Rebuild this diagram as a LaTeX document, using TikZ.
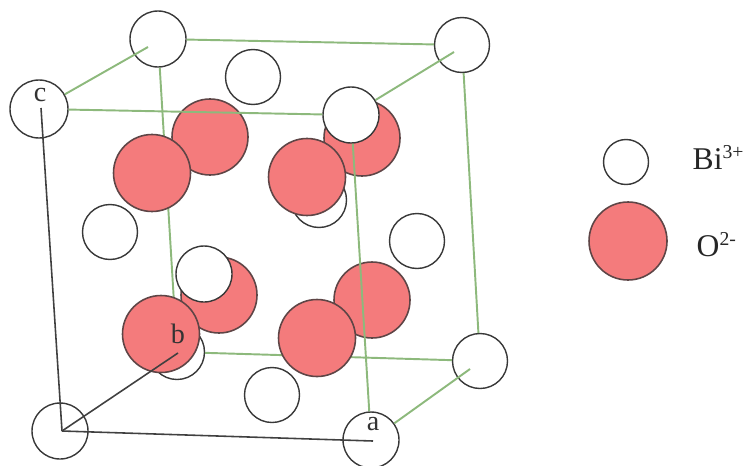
\documentclass[tikz,border=0pt]{standalone}
\usepackage{fontspec}
\setmainfont{Liberation Serif}
\definecolor{oxred}{HTML}{F47B7C}
\definecolor{bondgreen}{HTML}{8DB97C}
\definecolor{ringgray}{HTML}{383838}
\newcommand{\keysup}[1]{\raisebox{2.9pt}{\fontsize{5.6}{6}\selectfont #1}}
\tikzset{
	bi/.style={circle,draw=ringgray,fill=white,line width=0.4pt,inner sep=0pt,minimum size=#1},
	bi/.default=0.55cm,
	ox/.style={circle,draw=ringgray!80!oxred,fill=oxred,line width=0.45pt,inner sep=0pt,minimum size=#1},
	ox/.default=0.77cm,
	bond/.style={bondgreen,line width=0.55pt},
	axis/.style={black!75,line width=0.45pt},
	axlabel/.style={inner sep=0pt,font=\fontsize{8}{8}\selectfont,text=black!80},
	keylabel/.style={inner sep=0pt,anchor=base west,font=\fontsize{9}{10}\selectfont,text=black!85}
}
\begin{document}
\begin{tikzpicture}
		\useasboundingbox (0,0) rectangle (7.46,-4.65);
		% rear atoms
		\node[bi=0.56cm] (topback) at (1.58,-0.39) {};
		\node[bi=0.58cm] (topleft) at (0.39,-1.09) {};
		\node[bi] (topface) at (2.53,-0.77) {};
		\node[bi] (topright) at (4.62,-0.45) {};
		\node[bi] (midhid) at (3.19,-2.00) {};
		\node[bi] (midleft) at (1.10,-2.32) {};
		\node[bi] (midright) at (4.17,-2.41) {};
		\node[bi] (lowhid) at (1.77,-3.52) {};
		\node[bi] (lowface) at (2.72,-3.95) {};
		\node[bi=0.56cm] (origin) at (0.60,-4.31) {};
		\node[bi=0.56cm] (lowfront) at (3.71,-4.40) {};
		\node[bi] (lowright) at (4.80,-3.61) {};
		% free ends of the bonds inside the rings
		\coordinate (backend) at (1.48,-0.47);
		\coordinate (rightend) at (4.54,-0.52);
		\coordinate (lowend) at (4.70,-3.69);
		% bonds behind the oxygens
		\draw[bond] (topback) -- (topright);
		\draw[bond] (topback) -- (lowhid);
		\draw[bond] (lowhid) -- (lowright);
		\draw[bond] (topright) -- (lowright);
		\draw[bond] (topleft) -- (backend);
		\draw[bond] (lowfront) -- (lowend);
		% oxygens
		\node[ox=0.76cm] (oxa) at (2.10,-1.37) {};
		\node[ox] (oxb) at (1.52,-1.73) {};
		\node[ox=0.76cm] (oxc) at (3.62,-1.38) {};
		\node[ox] (oxd) at (3.07,-1.77) {};
		\node[ox=0.76cm] (oxe) at (2.19,-2.95) {};
		\node[ox] (oxf) at (1.61,-3.34) {};
		\node[ox=0.76cm] (oxg) at (3.72,-3.00) {};
		\node[ox] (oxh) at (3.17,-3.38) {};
		% front atoms
		\node[bi=0.56cm] (topfront) at (3.51,-1.15) {};
		\node[bi=0.56cm] (midfront) at (2.04,-2.74) {};
		\draw[bond] (topleft) -- (topfront);
		\draw[bond] (topfront) -- (rightend);
		\draw[bond] (topfront) -- (lowfront);
		% axes
		\coordinate (orig) at (0.62,-4.31);
		\coordinate (cend) at (0.41,-1.08);
		\coordinate (bend) at (1.78,-3.53);
		\coordinate (aend) at (3.73,-4.41);
		\draw[axis] (orig) -- (cend);
		\draw[axis] (orig) -- (bend);
		\draw[axis] (orig) -- (aend);
		\node[axlabel] (clabel) at (0.40,-0.95) {c};
		\node[axlabel] (blabel) at (1.78,-3.34) {b};
		\node[axlabel] (alabel) at (3.73,-4.24) {a};
		% key
		\node[bi=0.45cm] (keybi) at (6.26,-1.62) {};
		\node[ox=0.78cm] (keyox) at (6.28,-2.41) {};
		\node[keylabel] (bitext) at (6.92,-1.69) {Bi\keysup{3+}};
		\node[keylabel] (oxtext) at (6.96,-2.56) {O\keysup{2-}};
		\end{tikzpicture}
\end{document}
